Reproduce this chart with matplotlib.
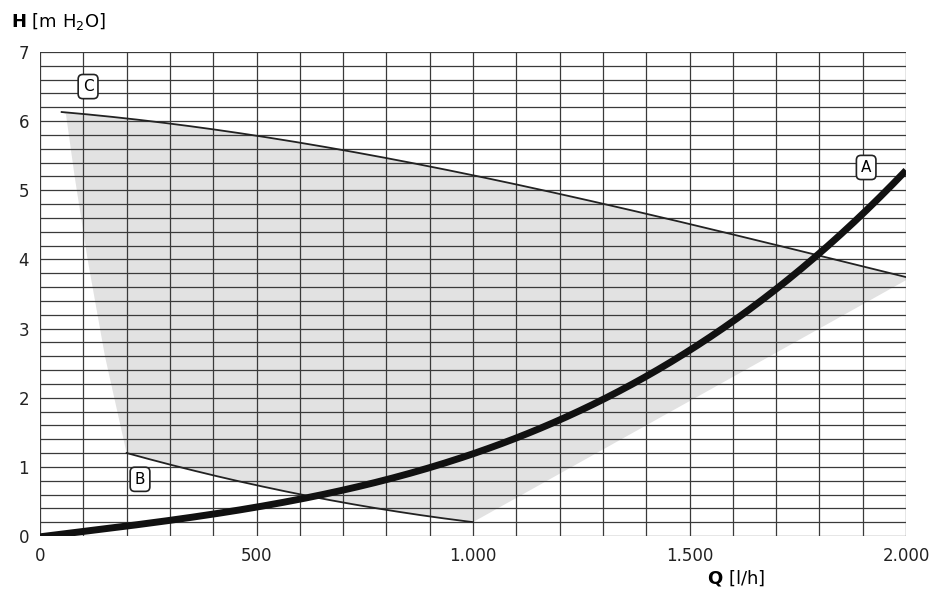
import numpy as np
import matplotlib.pyplot as plt
from matplotlib.patches import Polygon

# curve points
q_a = [0, 200, 400, 500, 600, 800, 1000, 1200, 1400, 1600, 1800, 2000]
h_a = [0, 0.15, 0.3, 0.38, 0.52, 0.85, 1.22, 1.7, 2.3, 3.05, 4.1, 5.3]
q_b = [200, 400, 600, 800, 1000]
h_b = [1.2, 0.88, 0.6, 0.38, 0.2]
q_c = [50, 200, 500, 800, 1000, 1300, 1500, 1800, 2000]
h_c = [6.12, 6.05, 5.8, 5.47, 5.2, 4.8, 4.5, 4.1, 3.72]
# left edge of the shaded region
q_edge = [200, 150, 110, 80, 60]
h_edge = [1.2, 2.6, 4.0, 5.2, 6.1]
x_ticks = [0, 500, 1000, 1500, 2000]
x_labels = ['0', '500', '1.000', '1.500', '2.000']
labels = {'A': (1908, 5.33), 'B': (231, 0.82), 'C': (111, 6.5)}

fig = plt.figure(figsize=(9.34, 5.95), dpi=100)
ax = fig.add_axes([40 / 934, 59 / 595, 866 / 934, 484 / 595])

def smooth(x, y, n=200):
    xs = np.linspace(x[0], x[-1], n)
    return xs, np.polyval(np.polyfit(x, y, 3), xs)

xa, ya = smooth(q_a, h_a)
xb, yb = smooth(q_b, h_b)
xc, yc = smooth(q_c, h_c)

# operating region
poly = list(zip(xb, yb)) + [(2000, 3.7)] + list(zip(xc[::-1], yc[::-1])) + list(zip(q_edge[::-1], h_edge[::-1]))
ax.add_patch(Polygon(poly, closed=True, facecolor='#e2e2e2', edgecolor='none', zorder=0))

ax.set_xticks(np.arange(0, 2001, 100), minor=True)
ax.set_yticks(np.arange(0, 7.01, 0.2), minor=True)
ax.grid(True, which='both', color='#3a3a3a', linewidth=0.9, zorder=1)
ax.set_axisbelow(True)

ax.plot(xc, yc, color='#222222', lw=1.3, zorder=3)
ax.plot(xb, yb, color='#222222', lw=1.3, zorder=3)
ax.plot(xa, ya, color='#111111', lw=5, solid_capstyle='butt', zorder=4)

for name, (x, y) in labels.items():
    ax.text(x, y, name, fontsize=11, ha='center', va='center', zorder=5,
            bbox=dict(boxstyle='round,pad=0.3', fc='white', ec='#222222', lw=1.2))

ax.set_xlim(0, 2000)
ax.set_ylim(0, 7)
ax.set_xticks(x_ticks)
ax.set_xticklabels(x_labels)
ax.set_yticks(range(8))
ax.tick_params(which='both', length=0, labelsize=12, colors='#222222', pad=8)
for s in ax.spines.values():
    s.set_visible(False)

fig.text(1540 / 2000 * 866 / 934 + 40 / 934, 0.02, r'$\mathbf{Q}$ [l/h]', fontsize=13, ha='left')
fig.text(0.012, 0.955, r'$\mathbf{H}$ [m H$_2$O]', fontsize=13, ha='left')

fig.savefig('out.png', dpi=100)
